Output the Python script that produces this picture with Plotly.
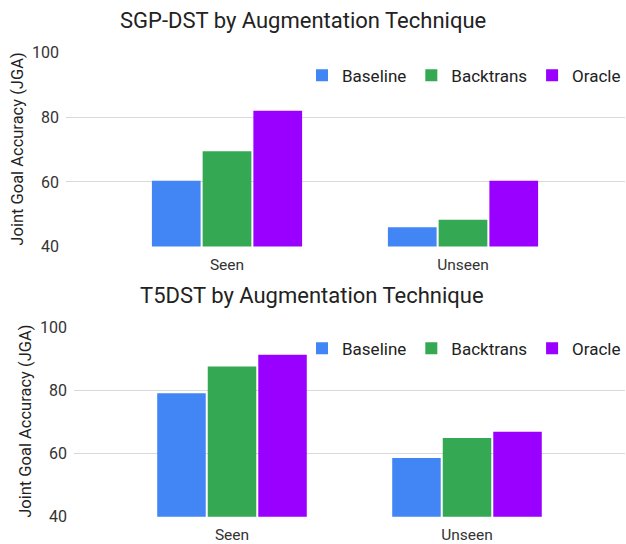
import plotly.graph_objects as go

categories = ["Seen", "Unseen"]
series_names = ["Baseline", "Backtrans", "Oracle"]
colors = ["#4285F4", "#34A853", "#9900FF"]

sgp_baseline = [60.4, 46.0]
sgp_backtrans = [69.5, 48.3]
sgp_oracle = [82.0, 60.4]

t5_baseline = [79.2, 58.7]
t5_backtrans = [87.7, 65.0]
t5_oracle = [91.4, 67.0]

y_ticks = [40, 60, 80, 100]

FONT = "Roboto"
W, H = 626, 544

fig = go.Figure()

top = [sgp_baseline, sgp_backtrans, sgp_oracle]
bot = [t5_baseline, t5_backtrans, t5_oracle]

for name, vals, col in zip(series_names, top, colors):
    fig.add_trace(go.Bar(x=categories, y=vals, name=name, marker_color=col,
                         marker_line_width=0, xaxis="x", yaxis="y", legend="legend"))
for name, vals, col in zip(series_names, bot, colors):
    fig.add_trace(go.Bar(x=categories, y=vals, name=name, marker_color=col,
                         marker_line_width=0, xaxis="x2", yaxis="y2", legend="legend2"))

def px_x(p):
    return p / W

# observed render maps figure y to screen as 0.964*y + 8.9; compensate
def px_y(p):
    fy = (p - 8.9) / 0.964
    return 1 - fy / H

grid = "#d9d9d9"
ytickfont = dict(family=FONT, size=16, color="#333333")
xtickfont = dict(family=FONT, size=15.5, color="#333333")

def xrange(left, right, c0, c1):
    step = c1 - c0
    return [-(c0 - left) / step, 1 + (right - c1) / step]

fig.update_layout(
    width=W, height=H,
    margin=dict(l=0, r=0, t=0, b=0),
    paper_bgcolor="white", plot_bgcolor="white",
    barmode="group", bargap=0.355, bargroupgap=0.04,
    font=dict(family=FONT),
    xaxis=dict(domain=[px_x(66), px_x(625)], anchor="y", type="category",
               range=xrange(66, 625, 227, 463), showgrid=False, showline=False,
               ticks="", tickfont=xtickfont, ticklabelstandoff=7),
    yaxis=dict(domain=[px_y(249), px_y(53)], anchor="x", range=[40, 100],
               tickvals=y_ticks, gridcolor=grid, zeroline=False, showline=False,
               ticks="", tickfont=ytickfont, ticklabelstandoff=6),
    xaxis2=dict(domain=[px_x(74), px_x(625)], anchor="y2", type="category",
                range=xrange(74, 625, 232, 467), showgrid=False, showline=False,
                ticks="", tickfont=xtickfont, ticklabelstandoff=7),
    yaxis2=dict(domain=[px_y(522), px_y(331)], anchor="x2", range=[40, 100],
                tickvals=y_ticks, gridcolor=grid, zeroline=False, showline=False,
                ticks="", tickfont=ytickfont, ticklabelstandoff=6),
    legend=dict(orientation="h", x=1.0, xanchor="right", y=px_y(58), yanchor="top",
                font=dict(family=FONT, size=17, color="#222222"),
                bgcolor="rgba(0,0,0,0)", itemclick=False, itemwidth=30),
    legend2=dict(orientation="h", x=1.0, xanchor="right", y=px_y(334), yanchor="top",
                 font=dict(family=FONT, size=17, color="#222222"),
                 bgcolor="rgba(0,0,0,0)", itemclick=False, itemwidth=30),
    annotations=[
        dict(text="SGP-DST by Augmentation Technique", x=px_x(303), y=px_y(21),
             xref="paper", yref="paper", showarrow=False, xanchor="center", yanchor="middle",
             font=dict(family=FONT, size=22, color="#222222")),
        dict(text="T5DST by Augmentation Technique", x=px_x(312), y=px_y(298),
             xref="paper", yref="paper", showarrow=False, xanchor="center", yanchor="middle",
             font=dict(family=FONT, size=22, color="#222222")),
        dict(text="Joint Goal Accuracy (JGA)", x=px_x(18), y=px_y(151),
             xref="paper", yref="paper", showarrow=False, textangle=-90,
             xanchor="center", yanchor="middle",
             font=dict(family=FONT, size=16.5, color="#222222")),
        dict(text="Joint Goal Accuracy (JGA)", x=px_x(26), y=px_y(426),
             xref="paper", yref="paper", showarrow=False, textangle=-90,
             xanchor="center", yanchor="middle",
             font=dict(family=FONT, size=16.5, color="#222222")),
    ],
)

fig.write_html(
    "out.html",
    config={"displayModeBar": False},
    post_script="document.body.style.margin='0';document.body.style.overflow='hidden';",
)
